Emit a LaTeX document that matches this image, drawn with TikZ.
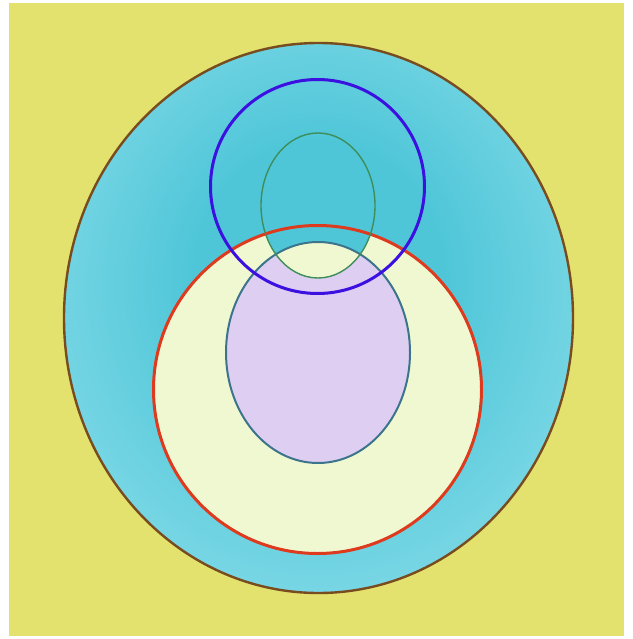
\documentclass[tikz,border=0pt]{standalone}
\usepackage{xcolor}
\usepackage{tikz}
\definecolor{bgyellow}{RGB}{228,226,110}
\definecolor{cyandeep}{RGB}{78,198,216}
\definecolor{cyanpale}{RGB}{182,238,246}
\definecolor{creamfill}{RGB}{240,248,210}
\definecolor{lavfill}{RGB}{222,206,242}
\definecolor{rimbrown}{RGB}{120,76,30}
\definecolor{ringblue}{RGB}{60,16,224}
\definecolor{ringred}{RGB}{222,58,30}
\definecolor{lensgreen}{RGB}{62,142,90}
\definecolor{coreteal}{RGB}{60,116,140}
\pgfdeclareradialshading{cyanglow}{\pgfpoint{0bp}{5bp}}{color(0bp)=(cyandeep); color(12bp)=(cyandeep); color(50bp)=(cyanpale)}

\begin{document}
\begin{tikzpicture}[
    x=1pt, y=-1pt,
    rim/.style={draw=rimbrown, line width=2.4pt},
    bluering/.style={draw=ringblue, line width=3pt},
    redring/.style={draw=ringred, line width=3pt},
    lens/.style={draw=lensgreen, line width=1.4pt},
    core/.style={draw=coreteal, line width=2pt}
]
    \useasboundingbox (0,0) rectangle (632,639);
    \fill[bgyellow] (9,3) rectangle (624,636);

    % fills
    \shade[shading=cyanglow] (318.5,318) ellipse [x radius=254.5pt, y radius=275pt];
    \fill[creamfill] (317.5,389.5) circle [radius=164pt];
    \fill[lavfill] (318,352.5) ellipse [x radius=92pt, y radius=110.5pt];
    \begin{scope}
        \clip (318,205.5) ellipse [x radius=57pt, y radius=72.5pt];
        \fill[cyandeep] (317.5,389.5) circle [radius=164pt];
        \fill[creamfill] (318,352.5) ellipse [x radius=92pt, y radius=110.5pt];
    \end{scope}

    % outlines
    \draw[rim] (318.5,318) ellipse [x radius=254.5pt, y radius=275pt];
    \draw[redring] (317.5,389.5) circle [radius=164pt];
    \draw[core] (318,352.5) ellipse [x radius=92pt, y radius=110.5pt];
    \draw[lens] (318,205.5) ellipse [x radius=57pt, y radius=72.5pt];
    \draw[bluering] (317.5,186.5) circle [radius=107pt];
\end{tikzpicture}
\end{document}
